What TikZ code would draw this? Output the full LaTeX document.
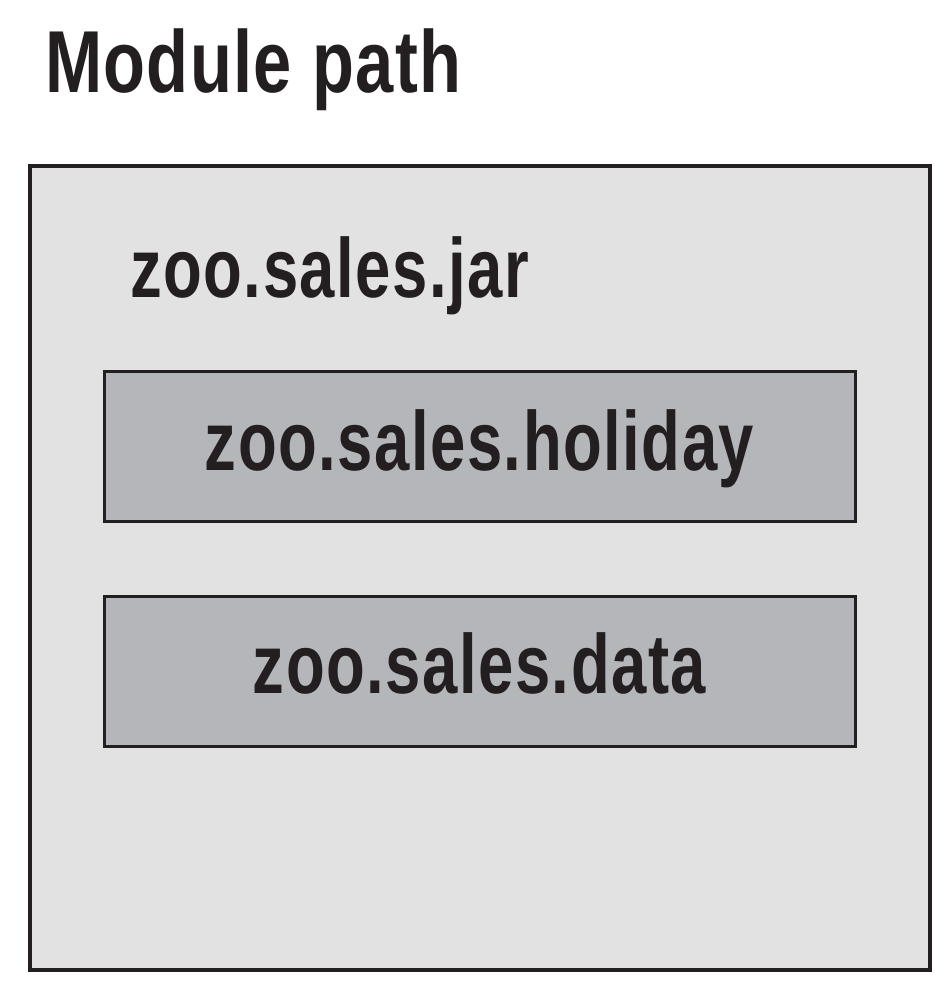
\documentclass[tikz,border=0pt]{standalone}
\usepackage{fontspec}
\newfontfamily\titlefont[FakeStretch=0.78,LetterSpace=1.5]{Liberation Sans Bold}
\newfontfamily\bodyfont[FakeStretch=0.755,LetterSpace=1.8]{Liberation Sans Bold}
\definecolor{ink}{HTML}{231F20}
\definecolor{outerfill}{HTML}{E2E2E2}
\definecolor{innerfill}{HTML}{B5B6BA}
\tikzset{
  outerbox/.style={draw=ink, fill=outerfill, line width=3.5pt},
  innerbox/.style={draw=ink, fill=innerfill, line width=3pt},
  titletext/.style={text=ink, inner sep=0pt, font=\titlefont\fontsize{88}{90}\selectfont},
  bodytext/.style={text=ink, inner sep=0pt, font=\bodyfont\fontsize{84}{86}\selectfont},
}
\begin{document}
\begin{tikzpicture}[x=1pt,y=-1pt]
\useasboundingbox (0,0) rectangle (948,988);
\fill[white] (0,0) rectangle (948,988);
\node[titletext, anchor=base west] (title) at (45,92) {Module path};
\draw[outerbox] (30,166) rectangle (930,970);
\coordinate (outer) at (480,568);
\node[bodytext, anchor=base west] (jar) at (130,297) {zoo.sales.jar};
\draw[innerbox] (104,371) rectangle (855,521);
\node[bodytext, anchor=base] (holiday) at (479.5,470) {zoo.sales.holiday};
\draw[innerbox] (104,596) rectangle (855,746);
\node[bodytext, anchor=base] (data) at (479.5,693) {zoo.sales.data};
\end{tikzpicture}
\end{document}
